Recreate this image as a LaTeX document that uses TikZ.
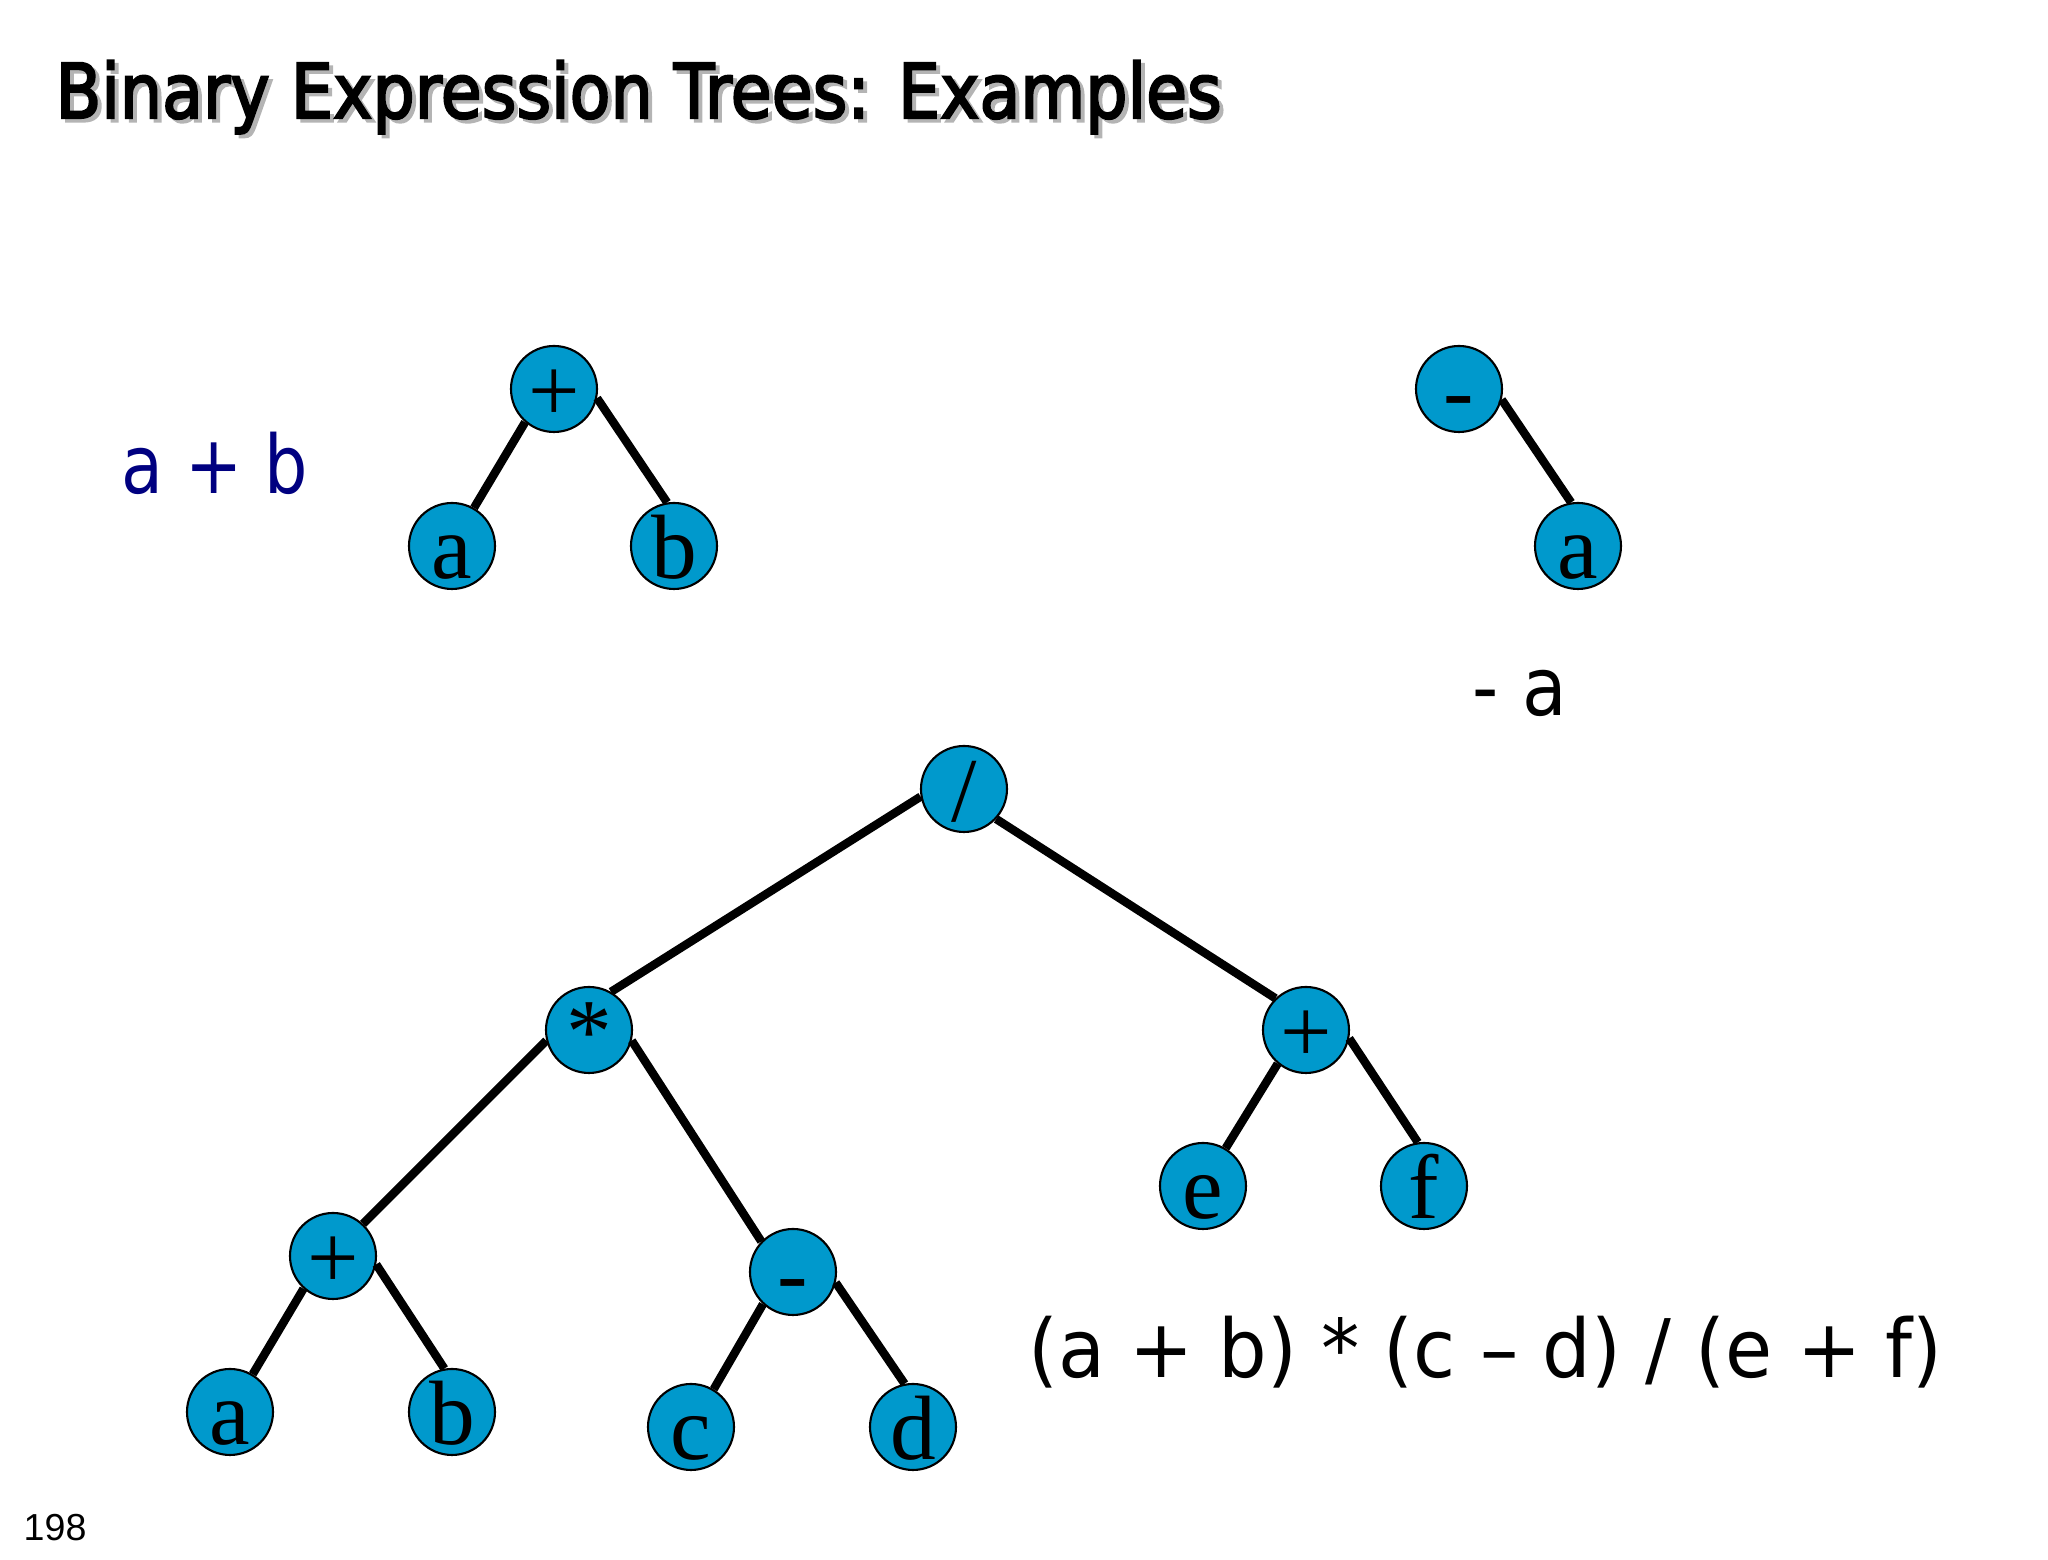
\documentclass[tikz,border=0pt]{standalone}
\usepackage{fontspec}
\setmainfont{Liberation Serif}
\setsansfont{DejaVu Sans}
\newfontfamily\titlefont[FakeBold=3]{DejaVu Sans}
\newfontfamily\pagefont{Liberation Sans}
\definecolor{nodeblue}{RGB}{0,153,204}
\definecolor{labelnavy}{RGB}{0,0,128}
\definecolor{shadowgray}{RGB}{180,180,180}

\begin{document}
\begin{tikzpicture}[
    tnode/.style={circle, draw=black, line width=0.6pt, fill=nodeblue, minimum size=0.86cm,
        inner sep=0pt, text height=0.66cm, text depth=0pt, font=\fontsize{26}{26}\selectfont},
    edge/.style={line width=2.4pt},
    caption/.style={anchor=base west, inner sep=0pt, font=\sffamily\fontsize{23}{23}\selectfont},
    heading/.style={anchor=base west, inner sep=0pt, font=\titlefont\fontsize{21.5}{24}\selectfont}
]
    \useasboundingbox (0,0) rectangle (20.48,-15.6);

    % Title with its shadow
    \node[heading, text=shadowgray] (titleshadow) at (0.59,-1.215) {\resizebox{11.66cm}{\height}{Binary Expression Trees: Examples}};
    \node[heading] (title) at (0.55,-1.18) {\resizebox{11.66cm}{\height}{Binary Expression Trees: Examples}};

    % a + b
    \node[tnode] (t1p) at (5.54,-3.89) {+};
    \node[tnode] (t1a) at (4.52,-5.46) {a};
    \node[tnode] (t1b) at (6.74,-5.46) {b};
    \draw[edge] (t1p.229) -- (t1a.60);
    \draw[edge] (t1p.348) -- (t1b.99);
    \node[caption, text=labelnavy] (cap1) at (1.21,-4.94) {\resizebox{1.86cm}{\height}{a + b}};

    % - a
    \node[tnode] (t2m) at (14.59,-3.89) {-};
    \node[tnode] (t2a) at (15.78,-5.46) {a};
    \draw[edge] (t2m.346) -- (t2a.99);
    \node[caption] (cap2) at (14.72,-7.16) {\resizebox{0.94cm}{\height}{- a}};

    % (a + b) * (c - d) / (e + f)
    \node[tnode] (div) at (9.64,-7.89) {/};
    \node[tnode] (mul) at (5.89,-10.30) {*};
    \node[tnode] (addR) at (13.06,-10.30) {+};
    \node[tnode] (e) at (12.03,-11.86) {e};
    \node[tnode] (f) at (14.24,-11.86) {f};
    \node[tnode] (addL) at (3.33,-12.56) {+};
    \node[tnode] (sub) at (7.93,-12.72) {-};
    \node[tnode] (la) at (2.30,-14.12) {a};
    \node[tnode] (lb) at (4.52,-14.12) {b};
    \node[tnode] (lc) at (6.91,-14.27) {c};
    \node[tnode] (ld) at (9.13,-14.27) {d};
    \draw[edge] (div.190) -- (mul.60);
    \draw[edge] (div.317) -- (addR.134);
    \draw[edge] (mul.194) -- (addL.47);
    \draw[edge] (mul.346) -- (sub.136);
    \draw[edge] (addR.230) -- (e.59);
    \draw[edge] (addR.349) -- (f.98);
    \draw[edge] (addL.228) -- (la.59);
    \draw[edge] (addL.349) -- (lb.100);
    \draw[edge] (sub.227) -- (lc.59);
    \draw[edge] (sub.346) -- (ld.101);
    \node[caption] (cap3) at (10.28,-13.78) {\resizebox{9.14cm}{\height}{(a + b) * (c – d) / (e + f)}};

    \node[anchor=base west, inner sep=0pt, font=\pagefont\fontsize{10.7}{12}\selectfont] (pagenum) at (0.23,-15.41) {198};
\end{tikzpicture}
\end{document}
